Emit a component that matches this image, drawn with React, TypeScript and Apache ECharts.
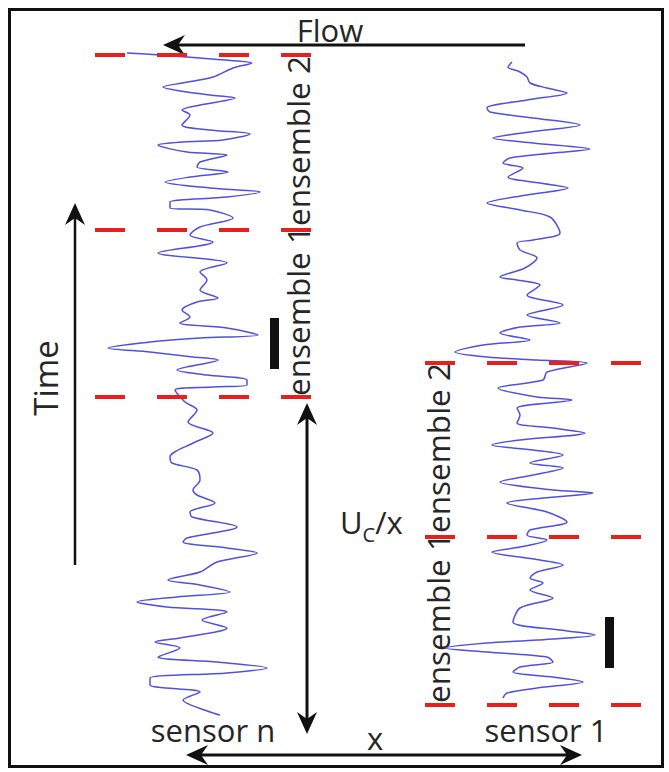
import React, { useEffect, useRef } from "react";
import * as echarts from "echarts";

// Sensor traces: [time (vertical position), fluctuation about the sensor's mean]
const sensorNTrace: [number, number][] = [
  [53, -68], [55, -35], [58, 5], [60, 30], [63, 57], [68, 38], [77, 18], [83, -13], [87, -32], [92, -8],
  [95, 15], [98, 40], [105, 5], [110, -13], [115, -5], [125, -13], [130, 15], [134, 55], [140, 28], [142, -12],
  [145, -37], [152, -8], [155, 32], [162, 5], [167, 2], [172, 33], [177, -5], [182, -30], [188, 15], [192, 65],
  [197, 32], [202, -25], [208, -25], [210, 15], [218, 38], [227, 5], [235, -5], [242, 18], [253, -37], [263, 32],
  [272, 5], [280, 12], [290, 5], [298, 23], [302, 2], [310, -13], [317, -5], [323, -15], [328, 32], [335, 63],
  [338, 5], [342, -45], [348, -87], [352, -45], [357, -2], [360, 23], [370, -18], [375, 12], [380, 52], [385, 52],
  [387, 18], [390, -20], [402, -10], [410, 2], [422, -7], [433, 18], [443, -2], [457, -25], [463, -23], [470, 2],
  [480, 5], [490, -2], [495, 2], [503, 20], [512, -5], [517, -3], [527, 42], [538, -8], [542, -12], [548, 32],
  [553, 62], [562, 22], [572, 5], [580, -27], [585, 5], [592, 35], [597, -18], [602, -58], [607, -28], [612, 32],
  [620, 7], [628, 32], [638, -15], [642, -40], [648, -15], [657, -37], [662, 22], [668, 72], [673, 32], [678, -45],
  [685, -45], [692, 5], [700, -12], [712, 15], [715, 25],
];

const sensor1Trace: [number, number][] = [
  [62, -13], [67, -17], [72, -5], [77, 2], [83, 5], [88, 22], [93, 42], [100, 2], [108, -38], [112, -35],
  [118, 8], [125, 55], [132, 5], [138, -32], [143, 8], [149, 65], [153, 28], [158, -15], [163, -22], [168, -2],
  [177, -17], [183, 15], [188, 43], [195, 2], [203, -38], [210, -5], [217, 25], [233, 35], [240, 8], [243, -8],
  [250, -5], [258, 12], [268, 0], [277, -25], [280, -8], [285, 15], [295, 2], [305, 38], [315, 2], [323, 35],
  [327, -5], [333, -25], [340, 5], [345, -42], [352, -70], [357, -38], [360, 12], [363, 62], [372, 22], [380, 18],
  [388, -27], [397, 12], [400, 47], [408, -8], [415, -5], [423, -8], [428, 28], [433, 60], [440, -5], [445, -33],
  [450, 8], [455, 38], [463, 5], [468, 38], [475, 8], [482, -25], [490, 28], [493, 68], [498, 18], [503, -18],
  [512, 22], [522, 42], [530, 5], [535, 2], [540, 22], [547, -5], [552, -33], [560, 15], [565, 38], [572, 12],
  [578, 5], [583, 18], [590, 5], [598, 28], [608, -5], [622, -12], [630, 35], [635, 70], [640, 12], [643, -38],
  [648, -80], [652, -38], [657, 22], [662, 28], [667, -5], [672, -12], [677, 28], [682, 58], [688, 12], [693, -18],
  [698, -22],
];

// Ensemble boundaries (time positions) for each sensor
const sensorNBoundaries = [55, 230, 397];
const sensor1Boundaries = [363, 537, 705];

const W = 669;
const H = 772;

function head(tx: number, ty: number, dx: number, dy: number) {
  const L = 22, Wd = 10, N = 7;
  const bx = tx - dx * L, by = ty - dy * L;
  const px = -dy, py = dx;
  return [
    [tx, ty],
    [bx + px * Wd, by + py * Wd],
    [tx - dx * (L - N), ty - dy * (L - N)],
    [bx - px * Wd, by - py * Wd],
  ];
}

const FONT = "'Open Sans', 'Noto Sans', sans-serif";
const TXT = "#262626";

export default function App() {
  const ref = useRef<HTMLDivElement>(null);
  useEffect(() => {
    if (!ref.current) return;
    const chart = echarts.init(ref.current, null, { renderer: "svg" });

    const nCenter = 195;
    const oneCenter = 525;
    const traceStyle = { color: "#5050e0", width: 1.5 };

    const series: any[] = [
      {
        type: "line",
        data: sensorNTrace.map(([t, v]) => [nCenter + v, t]),
        symbol: "none",
        smooth: 0.3,
        lineStyle: traceStyle,
        z: 2,
      },
      {
        type: "line",
        data: sensor1Trace.map(([t, v]) => [oneCenter + v, t]),
        symbol: "none",
        smooth: 0.3,
        lineStyle: traceStyle,
        z: 2,
      },
      ...sensorNBoundaries.map((t) => ({
        type: "line",
        data: [[95, t], [311, t]],
        symbol: "none",
        lineStyle: { color: "#e8201c", width: 4, type: [30, 32] },
        z: 3,
      })),
      ...sensor1Boundaries.map((t) => ({
        type: "line",
        data: [[425, t], [641, t]],
        symbol: "none",
        lineStyle: { color: "#e8201c", width: 4, type: [30, 32] },
        z: 3,
      })),
    ];

    const black = "#111";
    const graphic: any[] = [
      { type: "rect", shape: { x: 9.5, y: 9.5, width: 653, height: 757 }, style: { fill: "none", stroke: black, lineWidth: 3 } },
      // Flow arrow
      { type: "line", shape: { x1: 525, y1: 45, x2: 175, y2: 45 }, style: { stroke: black, lineWidth: 3 } },
      { type: "polygon", shape: { points: head(163, 45, -1, 0) }, style: { fill: black } },
      { type: "text", x: 330, y: 30, style: { text: "Flow", font: `31px ${FONT}`, fill: TXT, align: "center", verticalAlign: "middle" } },
      // Time arrow
      { type: "line", shape: { x1: 75, y1: 565, x2: 75, y2: 215 }, style: { stroke: black, lineWidth: 2.5 } },
      { type: "polygon", shape: { points: head(75, 203, 0, -1) }, style: { fill: black } },
      { type: "text", x: 45, y: 378, rotation: Math.PI / 2, style: { text: "Time", font: `33px ${FONT}`, fill: TXT, align: "center", verticalAlign: "middle" } },
      // Uc/x arrow
      { type: "line", shape: { x1: 307, y1: 415, x2: 307, y2: 722 }, style: { stroke: black, lineWidth: 3 } },
      { type: "polygon", shape: { points: head(307, 403, 0, -1) }, style: { fill: black } },
      { type: "polygon", shape: { points: head(307, 734, 0, 1) }, style: { fill: black } },
      {
        type: "text", x: 340, y: 525,
        style: {
          text: "{a|U}{b|C}{a|/x}", fill: TXT, align: "left", verticalAlign: "middle",
          rich: {
            a: { font: `31px ${FONT}`, fill: TXT, verticalAlign: "bottom", padding: [0, 0, 7, 0] },
            b: { font: `20px ${FONT}`, fill: TXT, verticalAlign: "bottom" },
          },
        },
      },
      // x arrow
      { type: "line", shape: { x1: 198, y1: 755, x2: 570, y2: 755 }, style: { stroke: black, lineWidth: 3 } },
      { type: "polygon", shape: { points: head(186, 755, -1, 0) }, style: { fill: black } },
      { type: "polygon", shape: { points: head(582, 755, 1, 0) }, style: { fill: black } },
      { type: "text", x: 375, y: 738, style: { text: "x", font: `31px ${FONT}`, fill: TXT, align: "center", verticalAlign: "middle" } },
      // sensor labels
      { type: "text", x: 213, y: 730, style: { text: "sensor n", font: `31px ${FONT}`, fill: TXT, align: "center", verticalAlign: "middle" } },
      { type: "text", x: 546, y: 730, style: { text: "sensor 1", font: `31px ${FONT}`, fill: TXT, align: "center", verticalAlign: "middle" } },
      // ensemble labels
      { type: "text", x: 297, y: 226, rotation: Math.PI / 2, style: { text: "ensemble 1ensemble 2", font: `31.5px ${FONT}`, fill: TXT, align: "center", verticalAlign: "middle" } },
      { type: "text", x: 437, y: 533, rotation: Math.PI / 2, style: { text: "ensemble 1ensemble 2", font: `31.5px ${FONT}`, fill: TXT, align: "center", verticalAlign: "middle" } },
      // scale bars
      { type: "rect", shape: { x: 270, y: 318, width: 9, height: 51 }, style: { fill: black } },
      { type: "rect", shape: { x: 605, y: 617, width: 9, height: 51 }, style: { fill: black } },
    ];

    chart.setOption({
      animation: false,
      backgroundColor: "#fff",
      grid: { left: 0, top: 0, right: 0, bottom: 0 },
      xAxis: { type: "value", min: 0, max: W, show: false },
      yAxis: { type: "value", min: 0, max: H, inverse: true, show: false },
      series,
      graphic,
    });
    return () => chart.dispose();
  }, []);
  return <div ref={ref} style={{ position: "absolute", left: 0, top: 0, width: W, height: H, background: "#fff" }} />;
}
